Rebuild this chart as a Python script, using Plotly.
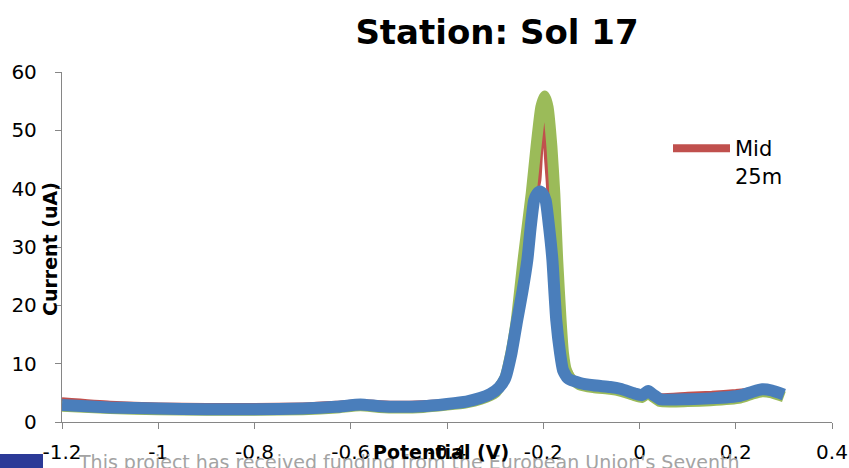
import plotly.graph_objects as go

# ---------------- data ----------------
potential_red = [-1.2, -1.1, -1.0, -0.9, -0.8, -0.7, -0.63, -0.58, -0.54, -0.5, -0.45, -0.4,
                 -0.36, -0.33, -0.3, -0.28, -0.265, -0.25, -0.232, -0.222, -0.214, -0.208,
                 -0.204, -0.2, -0.196, -0.191, -0.186, -0.18, -0.17, -0.16, -0.145, -0.135,
                 -0.12, -0.1, -0.061, -0.04, -0.01, 0.005, 0.018, 0.03, 0.043, 0.1, 0.15,
                 0.2, 0.235, 0.255, 0.275, 0.3]
current_red = [3.9, 3.3, 3.0, 2.9, 2.9, 3.0, 3.3, 3.6, 3.4, 3.3, 3.4, 3.6,
               4.0, 4.6, 5.5, 8.0, 13.0, 21.0, 28.0, 35.0, 39.0, 41.5,
               47.2, 53.0, 47.2, 41.5, 35.0, 28.0, 17.5, 11.8, 8.9, 7.5,
               6.7, 6.3, 6.1, 5.8, 5.1, 4.8, 5.4, 4.9, 4.6, 4.85, 5.0,
               5.3, 5.6, 5.8, 5.6, 4.9]

potential_green = [-1.2, -1.1, -1.0, -0.9, -0.8, -0.7, -0.63, -0.58, -0.54, -0.5, -0.45, -0.4,
                   -0.36, -0.33, -0.3, -0.28, -0.267, -0.256, -0.242, -0.225, -0.215, -0.205,
                   -0.197, -0.19, -0.182, -0.176, -0.17, -0.163, -0.158, -0.152, -0.143,
                   -0.125, -0.096, -0.061, -0.04, -0.01, 0.005, 0.018, 0.03, 0.043, 0.1,
                   0.147, 0.209, 0.235, 0.255, 0.275, 0.3]
current_green = [2.7, 2.3, 2.1, 2.0, 2.0, 2.1, 2.4, 2.8, 2.5, 2.4, 2.5, 2.9,
                 3.3, 3.9, 5.0, 7.5, 12.0, 17.5, 27.8, 39.2, 47.2, 54.0,
                 55.9, 54.0, 47.2, 39.2, 27.8, 17.5, 11.8, 8.9, 7.5,
                 6.4, 5.9, 5.6, 5.3, 4.5, 4.2, 4.9, 4.2, 3.5, 3.5,
                 3.65, 4.1, 4.8, 5.2, 5.0, 4.3]

potential_blue = [-1.2, -1.1, -1.0, -0.9, -0.8, -0.7, -0.63, -0.58, -0.54, -0.5, -0.45, -0.4,
                  -0.36, -0.331, -0.31, -0.292, -0.279, -0.266, -0.254, -0.243, -0.233, -0.226,
                  -0.219, -0.213, -0.207, -0.201, -0.195, -0.188, -0.181, -0.177, -0.173,
                  -0.165, -0.159, -0.149, -0.124, -0.096, -0.061, -0.04, -0.01, 0.005, 0.018,
                  0.03, 0.043, 0.1, 0.147, 0.209, 0.235, 0.255, 0.275, 0.3]
current_blue = [2.9, 2.5, 2.3, 2.2, 2.2, 2.3, 2.6, 3.0, 2.7, 2.6, 2.7, 3.1,
                3.5, 4.1, 4.8, 5.9, 7.5, 11.8, 17.5, 22.5, 27.8, 33.5,
                38.0, 39.1, 39.5, 39.1, 38.0, 33.5, 27.8, 22.5, 17.5,
                11.8, 8.9, 7.5, 6.7, 6.3, 6.0, 5.7, 4.9, 4.6, 5.3,
                4.6, 3.9, 3.9, 4.05, 4.5, 5.2, 5.6, 5.4, 4.7]

x_tickvals = [-1.2, -1.0, -0.8, -0.6, -0.4, -0.2, 0.0, 0.2, 0.4]
x_ticktext = ["-1.2", "-1", "-0.8", "-0.6", "-0.4", "-0.2", "0", "0.2", "0.4"]
y_tickvals = [0, 10, 20, 30, 40, 50, 60]
y_ticktext = ["0", "10", "20", "30", "40", "50", "60"]

legend_name = "Mid<br>25m"
title_text = "Station: Sol 17"
x_title = "Potential (V)"
y_title = "Current (uA)"
footer_text = "This project has received funding from the European Union's Seventh"

# ---------------- figure ----------------
W, H = 849, 468
L, R, T, B = 62, 17, 72, 46
pw, ph = W - L - R, H - T - B

def px_x(p):
    return (p - L) / pw

def px_y(p):
    return (H - B - p) / ph

FONT = "DejaVu Sans"
AX = "#868686"

fig = go.Figure()
fig.add_trace(go.Scatter(x=potential_red, y=current_red, mode="lines", legendgroup="mid",
                         showlegend=False,
                         line=dict(color="#C0504D", width=4, shape="spline", smoothing=0.5)))
fig.add_trace(go.Scatter(x=[None], y=[None], mode="lines", name=legend_name, legendgroup="mid",
                         line=dict(color="#C0504D", width=8)))
fig.add_trace(go.Scatter(x=potential_green, y=current_green, mode="lines", showlegend=False,
                         line=dict(color="#9BBB59", width=11, shape="spline", smoothing=0.5)))
fig.add_trace(go.Scatter(x=potential_blue, y=current_blue, mode="lines", showlegend=False,
                         line=dict(color="#4A7EBB", width=12, shape="spline", smoothing=0.5)))

fig.update_layout(
    width=W, height=H,
    margin=dict(l=L, r=R, t=T, b=B, autoexpand=False),
    paper_bgcolor="white", plot_bgcolor="white",
    font=dict(family=FONT, color="black"),
    title=dict(text="<b>" + title_text + "</b>", x=497 / W, y=1 - 32 / H,
               xanchor="center", yanchor="middle", font=dict(size=34, family=FONT),
               automargin=False),
    xaxis=dict(range=[-1.2, 0.4], tickvals=x_tickvals, ticktext=x_ticktext,
               showgrid=False, zeroline=False, showline=True, linecolor=AX, linewidth=1.3,
               ticks="outside", ticklen=6, tickcolor=AX, tickwidth=1.3, automargin=False,
               tickfont=dict(size=20, family=FONT), ticklabelstandoff=6),
    yaxis=dict(range=[0, 60], tickvals=y_tickvals, ticktext=y_ticktext,
               showgrid=False, zeroline=False, showline=True, linecolor=AX, linewidth=1.3,
               ticks="outside", ticklen=6, tickcolor=AX, tickwidth=1.3, automargin=False,
               tickfont=dict(size=20, family=FONT), ticklabelstandoff=14),
    legend=dict(x=px_x(668), y=px_y(128), xanchor="left", yanchor="top",
                font=dict(size=21, family=FONT), itemwidth=57, valign="top",
                bgcolor="rgba(0,0,0,0)"),
    annotations=[
        dict(text=footer_text, xref="paper", yref="paper",
             x=px_x(76), y=px_y(449), xanchor="left", yanchor="top",
             showarrow=False, font=dict(size=19, family=FONT, color="#A3A3A3")),
        dict(text="<b>" + x_title + "</b>", xref="paper", yref="paper",
             x=px_x(441), y=px_y(452), xanchor="center", yanchor="middle",
             showarrow=False, font=dict(size=19, family=FONT)),
        dict(text="<b>" + y_title + "</b>", xref="paper", yref="paper",
             x=px_x(50), y=px_y(249), xanchor="center", yanchor="middle", textangle=-90,
             showarrow=False, font=dict(size=19, family=FONT)),
    ],
    shapes=[
        dict(type="rect", xref="paper", yref="paper", x0=px_x(0), x1=px_x(43),
             y0=px_y(454), y1=px_y(475), fillcolor="#2B3A97", line=dict(width=0),
             layer="below"),
    ],
)

fig.write_html("out.html")
